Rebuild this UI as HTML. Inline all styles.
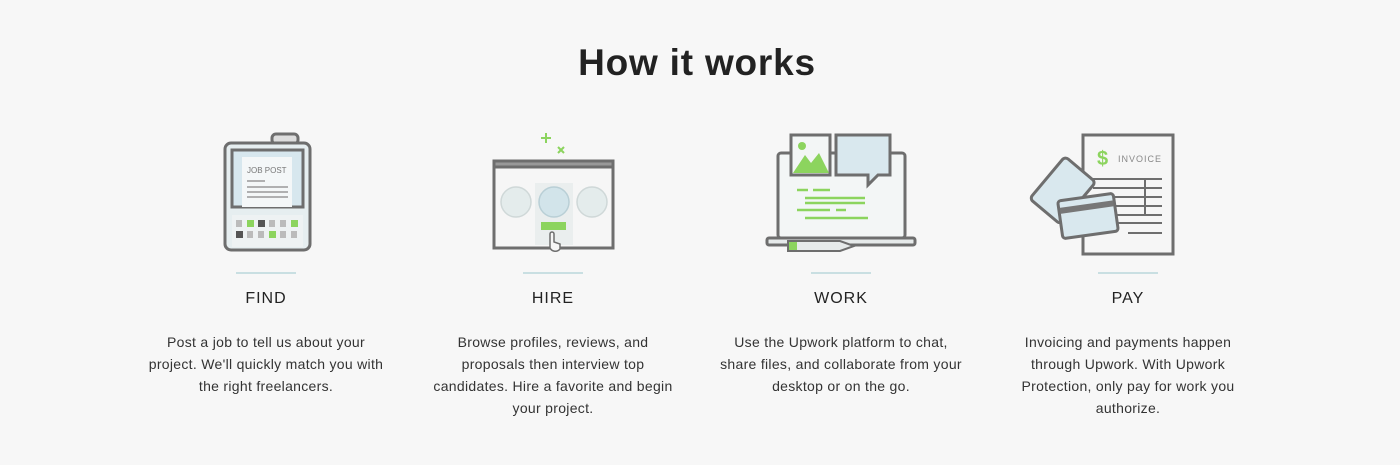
<!DOCTYPE html>
<html><head><meta charset="utf-8"><style>
body{margin:0;width:1400px;height:465px;background:#f7f7f7;font-family:"Liberation Sans",sans-serif;color:#222;position:relative;overflow:hidden}
h1{position:absolute;top:42px;left:0;width:1394px;text-align:center;margin:0;font-size:37px;font-weight:bold;color:#222;letter-spacing:0.8px}
.col{position:absolute;top:0;width:280px;text-align:center}
.sep{position:absolute;top:272px;left:110px;width:60px;height:2px;background:#c9dfe2}
.h{position:absolute;top:290px;width:280px;font-size:16px;letter-spacing:1px;color:#222}
.p{position:absolute;top:331px;left:18px;width:244px;font-size:14px;line-height:22px;color:#333;letter-spacing:0.3px}
svg{position:absolute;top:0;left:0}
</style></head><body>
<h1>How it works</h1>
<svg width="1400" height="270" fill="none" stroke="#6e6e6e" stroke-width="3">
<rect x="272" y="134" width="26" height="10" rx="4" fill="#ddd"/>
<rect x="225" y="143" width="85" height="107" rx="6" fill="#e6eef0"/>
<rect x="232" y="150" width="71" height="57" fill="#d7e7ee"/>
<rect x="242" y="157" width="50" height="50" fill="#f4f7f8" stroke="none"/>
<text x="247" y="173" font-size="8" fill="#777" stroke="none" font-family="Liberation Sans">JOB POST</text>
<g stroke="#999" stroke-width="1.5"><line x1="247" y1="181" x2="265" y2="181"/><line x1="247" y1="187" x2="288" y2="187"/><line x1="247" y1="192" x2="288" y2="192"/><line x1="247" y1="197" x2="288" y2="197"/></g>
<rect x="232" y="215" width="71" height="32" fill="#eef2f3" stroke="none"/>
<g stroke="none">
<rect x="236" y="220" width="6" height="7" fill="#bbb"/><rect x="247" y="220" width="7" height="7" fill="#8cd45e"/><rect x="258" y="220" width="7" height="7" fill="#555"/><rect x="269" y="220" width="6" height="7" fill="#bbb"/><rect x="280" y="220" width="6" height="7" fill="#bbb"/><rect x="291" y="220" width="7" height="7" fill="#8cd45e"/>
<rect x="236" y="231" width="7" height="7" fill="#555"/><rect x="247" y="231" width="6" height="7" fill="#bbb"/><rect x="258" y="231" width="6" height="7" fill="#bbb"/><rect x="269" y="231" width="7" height="7" fill="#8cd45e"/><rect x="280" y="231" width="6" height="7" fill="#bbb"/><rect x="291" y="231" width="6" height="7" fill="#bbb"/>
</g>
<g stroke="#8cd45e" stroke-width="2"><line x1="546" y1="133" x2="546" y2="143"/><line x1="541" y1="138" x2="551" y2="138"/><line x1="558" y1="147" x2="564" y2="153"/><line x1="564" y1="147" x2="558" y2="153"/></g>
<rect x="494" y="161" width="119" height="87" fill="#f6f6f6"/>
<rect x="494" y="161" width="119" height="6" fill="#999"/>
<rect x="535" y="183" width="38" height="62" fill="#eaeeee" stroke="none"/>
<circle cx="516" cy="202" r="15" fill="#e4ecec" stroke="#cfd8d8" stroke-width="1.5"/>
<circle cx="554" cy="202" r="15" fill="#d2e4ea" stroke="#b9cfd6" stroke-width="1.5"/>
<circle cx="592" cy="202" r="15" fill="#e4ecec" stroke="#cfd8d8" stroke-width="1.5"/>
<rect x="541" y="222" width="25" height="8" fill="#8cd45e" stroke="none"/>
<path d="M550 248 v-14 a2 2 0 0 1 4 0 v8 l6 2 v5 a6 6 0 0 1 -10 -1z" fill="#f6f6f6" stroke-width="1.5"/>
<rect x="778" y="153" width="127" height="85" rx="3" fill="#f3f6f6"/>
<rect x="767" y="238" width="148" height="7" rx="2" fill="#e6eaea"/>
<path d="M788 241 h52 l14 5 l-14 5 h-52z" fill="#e6eaea" stroke-width="2"/>
<rect x="789" y="242" width="8" height="8" fill="#8cd45e" stroke="none"/>
<rect x="791" y="135" width="39" height="40" fill="#f3f6f6"/>
<path d="M793 173 l12-18 l6 8 l8-10 l10 20z" fill="#8cd45e" stroke="none"/>
<circle cx="802" cy="146" r="4" fill="#8cd45e" stroke="none"/>
<path d="M836 135 h54 v40 h-12 l-10 10 v-10 h-32z" fill="#d9e8ee"/>
<g stroke="#8cd45e" stroke-width="2.5"><line x1="797" y1="190" x2="808" y2="190"/><line x1="813" y1="190" x2="830" y2="190"/><line x1="805" y1="198" x2="865" y2="198"/><line x1="805" y1="203" x2="865" y2="203"/><line x1="797" y1="210" x2="830" y2="210"/><line x1="836" y1="210" x2="846" y2="210"/><line x1="805" y1="218" x2="868" y2="218"/></g>
<rect x="1083" y="135" width="90" height="119" fill="#f6f6f6"/>
<text x="1097" y="165" font-size="20" font-weight="bold" fill="#8cd45e" stroke="none" font-family="Liberation Sans">$</text>
<text x="1118" y="162" font-size="9" fill="#888" stroke="none" font-family="Liberation Sans" letter-spacing="1">INVOICE</text>
<g stroke-width="2"><line x1="1093" y1="179" x2="1162" y2="179"/><line x1="1093" y1="188" x2="1162" y2="188"/><line x1="1093" y1="197" x2="1162" y2="197"/><line x1="1093" y1="206" x2="1162" y2="206"/><line x1="1093" y1="215" x2="1162" y2="215"/><line x1="1093" y1="223" x2="1162" y2="223"/><line x1="1128" y1="233" x2="1162" y2="233"/><line x1="1145" y1="179" x2="1145" y2="215"/></g>
<rect x="1043" y="163" width="40" height="55" rx="4" fill="#d9e8ee" transform="rotate(40 1063 190)"/>
<rect x="1060" y="197" width="56" height="38" rx="3" fill="#d9e8ee" transform="rotate(-8 1088 216)"/>
<rect x="1061" y="204" width="54" height="6" fill="#777" stroke="none" transform="rotate(-8 1088 216)"/>
</svg>
<div class="col" style="left:126px"><div class="sep"></div><div class="h">FIND</div><div class="p">Post a job to tell us about your project. We'll quickly match you with the right freelancers.</div></div>
<div class="col" style="left:413px"><div class="sep"></div><div class="h">HIRE</div><div class="p">Browse profiles, reviews, and proposals then interview top candidates. Hire a favorite and begin your project.</div></div>
<div class="col" style="left:701px"><div class="sep"></div><div class="h">WORK</div><div class="p">Use the Upwork platform to chat, share files, and collaborate from your desktop or on the go.</div></div>
<div class="col" style="left:988px"><div class="sep"></div><div class="h">PAY</div><div class="p">Invoicing and payments happen through Upwork. With Upwork Protection, only pay for work you authorize.</div></div>
</body></html>
